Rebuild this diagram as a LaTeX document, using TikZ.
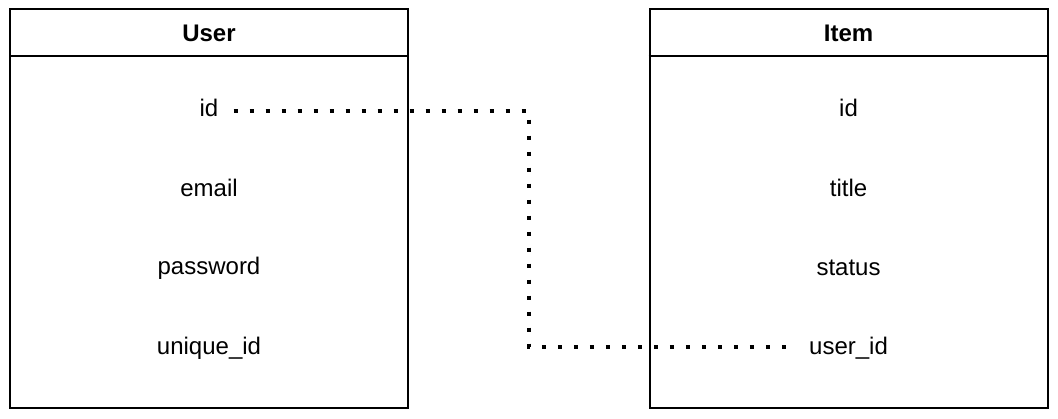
\documentclass[tikz,border=0pt]{standalone}
\usepackage{fontspec}
\setmainfont{Liberation Sans}
\begin{document}
\begin{tikzpicture}[x=0.5pt,y=-0.5pt]
        % Styles
        \tikzstyle{table}=[draw,line width=1pt,minimum width=199pt,minimum height=199.5pt,inner sep=0pt]
        \tikzstyle{title}=[font=\fontsize{12}{14}\selectfont\bfseries,inner sep=0pt]
        \tikzstyle{field}=[font=\fontsize{12}{14}\selectfont,inner sep=0pt]
        \tikzstyle{link}=[line width=2pt,dash pattern=on 2pt off 6pt]
        \useasboundingbox (0,0) rectangle (1058,418);
        %tables
        \node[table] (user) at (209,208.5) {};
        \node[table] (item) at (848.5,208.5) {};
        \draw[line width=1pt] (user.west |- 0,56) -- (user.east |- 0,56);
        \draw[line width=1pt] (item.west |- 0,56) -- (item.east |- 0,56);
        \node[title] (user title) at (209,33) {User};
        \node[title] (item title) at (848.5,33) {Item};
        %fields
        \foreach \name/\ftext/\y in {uid/id/108,uemail/email/188,upassword/password/268,uunique/unique\_id/348}
            \node[field] (\name) at (209,\y) {\ftext};
        \foreach \name/\ftext/\y in {iid/id/108,ititle/title/188,istatus/status/268,iuserid/user\_id/348}
            \node[field] (\name) at (848.5,\y) {\ftext};
        %relation
        \coordinate (bend) at (529,111);
        \draw[link,shorten <=7.5pt,shorten >=11pt] (uid.east |- bend) -- (bend) |- ([yshift=0.5pt]iuserid.west);
    \end{tikzpicture}
\end{document}
